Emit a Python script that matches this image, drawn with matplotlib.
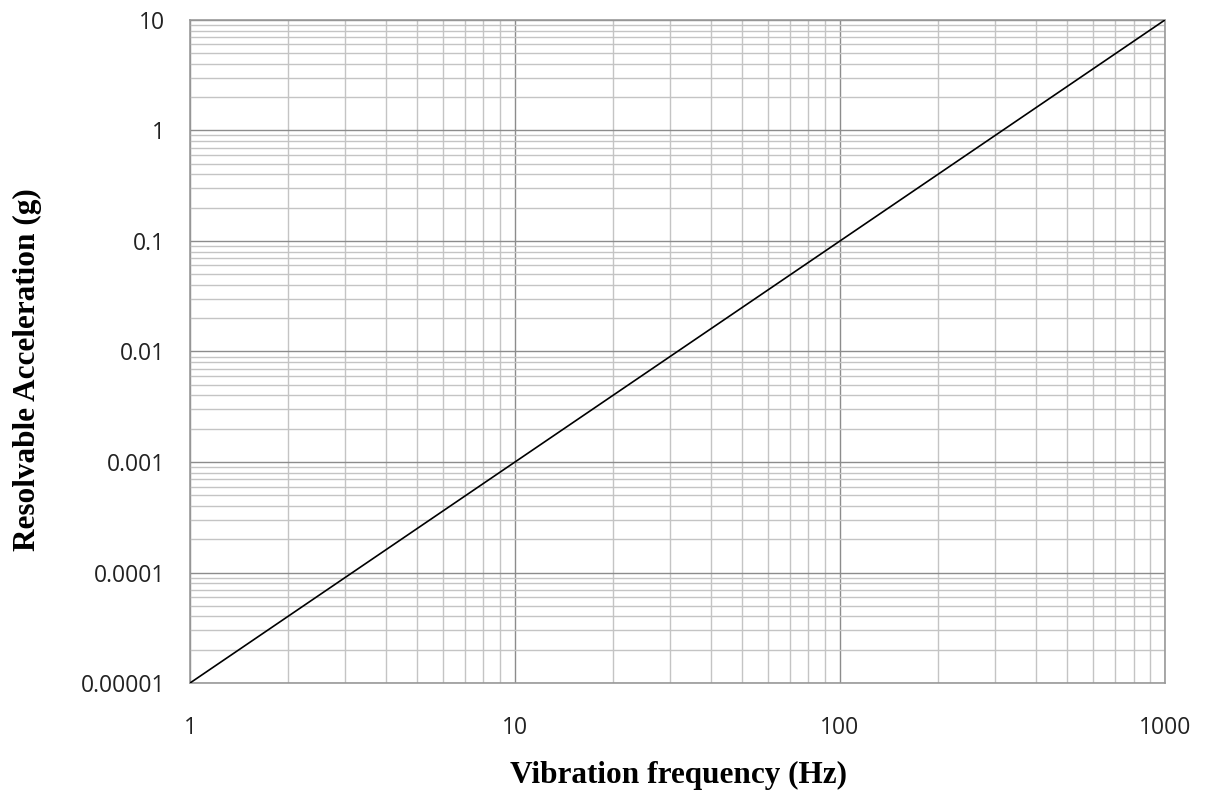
import numpy as np
import matplotlib.pyplot as plt
from matplotlib.ticker import LogLocator, FixedLocator, NullFormatter

# Data
freq = [1, 2, 3, 5, 10, 20, 30, 50, 100, 200, 300, 500, 1000]
accel = [0.00001, 0.00004, 0.00009, 0.00025, 0.001, 0.004, 0.009, 0.025,
         0.1, 0.4, 0.9, 2.5, 10]

x_ticks = [1, 10, 100, 1000]
x_labels = ['1', '10', '100', '1000']
y_ticks = [0.00001, 0.0001, 0.001, 0.01, 0.1, 1, 10]
y_labels = ['0.00001', '0.0001', '0.001', '0.01', '0.1', '1', '10']

fig = plt.figure(figsize=(12.07, 7.97), dpi=100)
ax = fig.add_axes([0.1574, 0.143, 0.8078, 0.832])

ax.plot(freq, accel, color='black', linewidth=1.2, zorder=3)

ax.set_xscale('log')
ax.set_yscale('log')
ax.set_xlim(1, 1000)
ax.set_ylim(0.00001, 10)

ax.xaxis.set_major_locator(FixedLocator(x_ticks))
ax.set_xticklabels(x_labels)
ax.yaxis.set_major_locator(FixedLocator(y_ticks))
ax.set_yticklabels(y_labels)
ax.xaxis.set_minor_locator(LogLocator(base=10, subs=np.arange(2, 10), numticks=20))
ax.yaxis.set_minor_locator(LogLocator(base=10, subs=np.arange(2, 10), numticks=20))
ax.xaxis.set_minor_formatter(NullFormatter())
ax.yaxis.set_minor_formatter(NullFormatter())

ax.grid(which='major', color='#8c8c8c', linewidth=1.0)
ax.grid(which='minor', color='#c4c4c4', linewidth=1.0)
ax.set_axisbelow(True)

ax.tick_params(which='both', length=0, labelsize=16.5, labelcolor='#222222')
ax.tick_params(axis='x', pad=24)
ax.tick_params(axis='y', pad=18)
for lab in ax.get_xticklabels() + ax.get_yticklabels():
    lab.set_family('Open Sans')
for s in ax.spines.values():
    s.set_color('#999999')
    s.set_linewidth(1.2)

ax.set_xlabel('Vibration frequency (Hz)', family='Liberation Serif',
              fontweight='bold', fontsize=22.5)
ax.set_ylabel('Resolvable Acceleration (g)', family='Liberation Serif',
              fontweight='bold', fontsize=22.5)
ax.xaxis.set_label_coords(0.5015, -0.118)
ax.yaxis.set_label_coords(-0.152, 0.472)

plt.savefig('out.png', dpi=100)
